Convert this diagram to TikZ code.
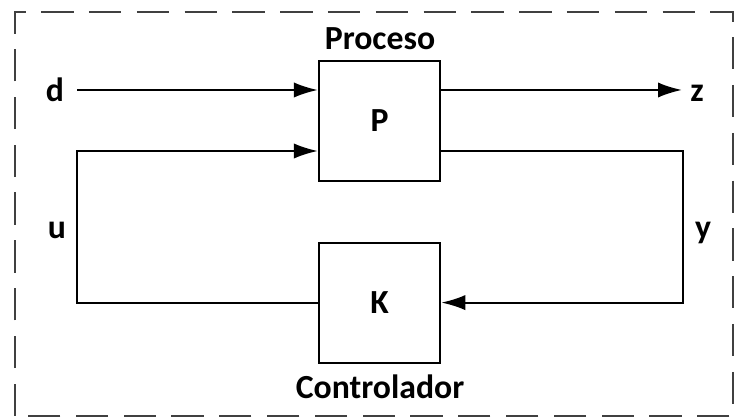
\documentclass[tikz,border=0pt]{standalone}
\usepackage{fontspec}
\setmainfont{Carlito}
\usetikzlibrary{arrows.meta,positioning,calc}

\begin{document}
\begin{tikzpicture}[
    >={Latex[length=6mm,width=3.8mm]}, line width=1.5pt,
    blk/.style={draw, minimum width=3.03cm, minimum height=3.0cm, inner sep=0pt, font=\bfseries\fontsize{24}{28}\selectfont},
    lbl/.style={font=\bfseries\fontsize{24}{28}\selectfont, inner sep=1pt},
    frame/.style={draw=black!75, line width=1.1pt, dash pattern=on 23pt off 11pt}
  ]
  % outer dashed frame
  \draw[frame] (0.375,0.025) rectangle (18.325,10.125);

  \node[blk] (P) at (9.49,7.4) {P};
  \node[blk] (K) at (9.49,2.86) {K};
  \node[lbl] (proc) at (9.5,9.45) {Proceso};
  \node[lbl] (ctrl) at (9.5,0.75) {Controlador};
  \node[lbl] (d) at (1.375,8.175) {d};
  \node[lbl] (z) at (17.425,8.09) {z};
  \node[lbl] (u) at (1.425,4.675) {u};
  \node[lbl] (y) at (17.575,4.6) {y};

  \coordinate (din) at (1.925,8.175);
  \coordinate (zout) at (17.05,8.175);
  \coordinate (ul) at (1.925,6.65);
  \coordinate (ur) at (17.075,6.65);

  % disturbance and output
  \draw[->] (din) -- (din -| P.west);
  \draw[->] (zout -| P.east) -- (zout);
  % control loop
  \draw[->] (K.west) -| (ul) -- (ul -| P.west);
  \draw[->] (ur -| P.east) -- (ur) |- (K.east);

  \path[use as bounding box] (0,0) rectangle (18.45,10.425);
\end{tikzpicture}
\end{document}
